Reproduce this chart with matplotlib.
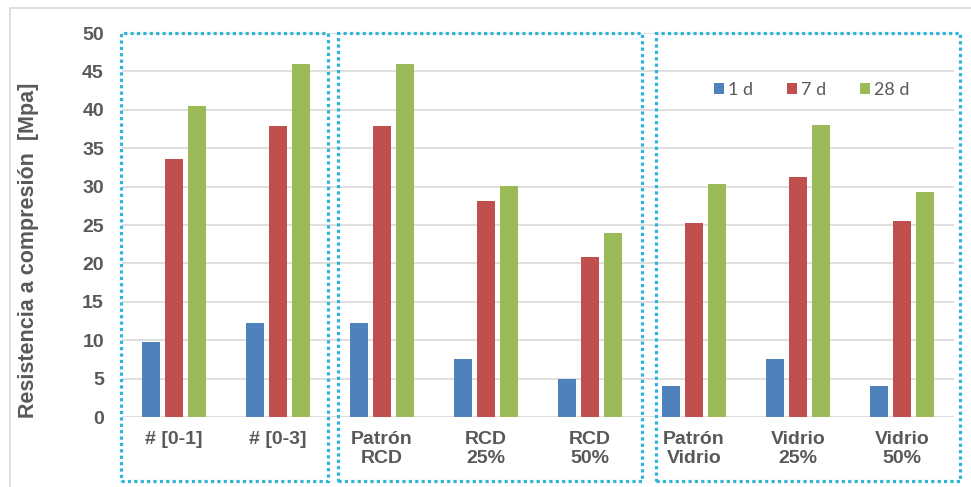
import matplotlib.pyplot as plt
import matplotlib.transforms as mtransforms
from matplotlib.patches import Rectangle
import numpy as np

# compressive strength per mix, at 1, 7 and 28 days
mixes = ["# [0-1]", "# [0-3]", "Patrón\nRCD", "RCD\n25%", "RCD\n50%",
         "Patrón\nVidrio", "Vidrio\n25%", "Vidrio\n50%"]
ages = ["1 d", "7 d", "28 d"]
d1 = [9.8, 12.3, 12.3, 7.6, 4.9, 4.0, 7.6, 4.1]
d7 = [33.6, 37.9, 37.9, 28.1, 20.8, 25.2, 31.2, 25.5]
d28 = [40.5, 46.0, 46.0, 30.1, 23.9, 30.3, 38.0, 29.3]
colors = ["#4F81BD", "#C0504D", "#9BBB59"]

# dotted frames around the mix families (x in category units)
groups = [(-0.51, 1.48), (1.58, 4.5), (4.63, 7.56)]

gray = "#595959"
fig = plt.figure(figsize=(9.71, 4.87), dpi=100)
ax = fig.add_axes([122 / 971, 1 - 417 / 487, 832 / 971, 384 / 487])

x = np.arange(len(mixes))
w = 0.175
step = 0.22
for k, (vals, c, lab) in enumerate(zip([d1, d7, d28], colors, ages)):
    ax.bar(x + (k - 1) * step, vals, w, color=c, label=lab, zorder=3)

ax.set_xlim(-0.5, len(mixes) - 0.5)
ax.set_ylim(0, 50)
ax.set_yticks(range(0, 51, 5))
ax.grid(axis="y", color="#D9D9D9", linewidth=1.2, zorder=0)
for s in ax.spines.values():
    s.set_visible(False)
ax.tick_params(length=0)
ax.tick_params(axis="y", pad=13)
ax.tick_params(axis="x", pad=10)
ax.set_xticks(x)
ax.set_xticklabels(mixes, linespacing=1.2)
for t in ax.get_xticklabels() + ax.get_yticklabels():
    t.set_family("Liberation Sans")
    t.set_fontweight("bold")
    t.set_fontsize(14)
    t.set_color(gray)

ax.set_ylabel("Resistencia a compresión  [Mpa]", family="Liberation Sans",
              fontweight="bold", fontsize=15.5, color=gray)
ax.yaxis.set_label_coords(-0.10, 0.435)

leg = ax.legend(loc="center", bbox_to_anchor=(0.829, 0.852), ncol=3,
                frameon=False, handlelength=0.55, handleheight=0.55,
                handletextpad=0.2, columnspacing=1.9,
                prop={"family": "Lato", "size": 13})
for t in leg.get_texts():
    t.set_color(gray)

trans = mtransforms.blended_transform_factory(ax.transData, ax.transAxes)
for x0, x1 in groups:
    ax.add_patch(Rectangle((x0, -0.167), x1 - x0, 1.167, transform=trans,
                           fill=False, edgecolor="#2FB3D9", linewidth=2.3,
                           linestyle=(0, (1, 1.0)), clip_on=False, zorder=5))

# chart area border
fig.add_artist(Rectangle((10 / 971, -0.1), 1.2, 1.1 - 8 / 487,
                         transform=fig.transFigure, fill=False,
                         edgecolor="#D9D9D9", linewidth=1.2))

fig.savefig("out.png", dpi=100)
